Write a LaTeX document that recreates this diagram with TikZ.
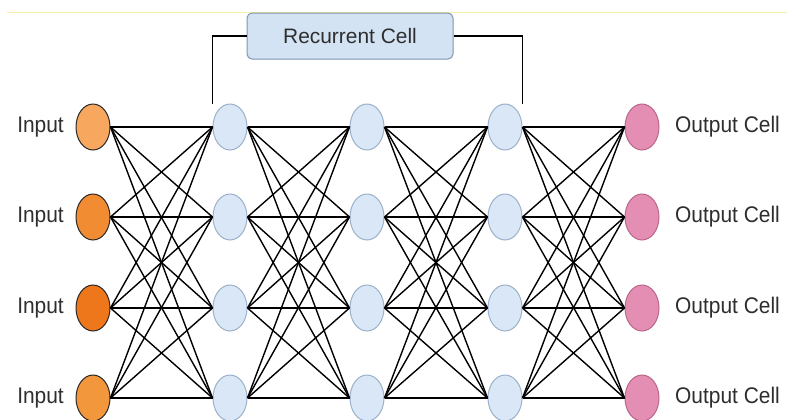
\documentclass[tikz,border=0pt]{standalone}
\usepackage{fontspec}
\setmainfont{Liberation Sans}
\usetikzlibrary{shapes.geometric}
\definecolor{inA}{HTML}{F8A75E}
\definecolor{inB}{HTML}{F28C33}
\definecolor{inC}{HTML}{EE771C}
\definecolor{inD}{HTML}{F3973C}
\definecolor{hidfill}{HTML}{DAE7F6}
\definecolor{hidline}{HTML}{9AB0CB}
\definecolor{outfill}{HTML}{E48EB4}
\definecolor{outline}{HTML}{B9668B}
\definecolor{recfill}{HTML}{D3E3F4}
\definecolor{recline}{HTML}{7E95AE}
\definecolor{ylw}{HTML}{F6EFA6}
\definecolor{txt}{HTML}{2E2E2E}
\newcommand{\tallfont}{\fontsize{21}{25}\selectfont}
\begin{document}
\begin{tikzpicture}[x=1bp,y=-1bp,
  neuron/.style={ellipse, minimum width=34bp, minimum height=46bp, inner sep=0pt, line width=1pt},
  innode/.style={neuron, draw=black!85},
  hidnode/.style={neuron, draw=hidline, fill=hidfill},
  outnode/.style={neuron, draw=outline, fill=outfill},
  link/.style={line width=1.4pt, black},
  lbl/.style={inner sep=0pt, font=\tallfont, text=txt, yscale=1.08},
  recbox/.style={rounded corners=5bp, draw=recline, fill=recfill, line width=1pt,
    minimum width=206bp, minimum height=46bp, inner sep=0pt, font=\tallfont, text=txt}]
\useasboundingbox (0,0) rectangle (787,419);
\coordinate (ya) at (7,12);
\coordinate (yb) at (787,12);
\draw[ylw, line width=0.8pt] (ya) -- (yb);
% nodes
\foreach \r/\y/\c in {1/127/inA,2/217/inB,3/308/inC,4/398/inD} {
  \node[innode, fill=\c] (n0-\r) at (93,\y) {};
  \node[hidnode] (n1-\r) at (230,\y) {};
  \node[hidnode] (n2-\r) at (367,\y) {};
  \node[hidnode] (n3-\r) at (505,\y) {};
  \node[outnode] (n4-\r) at (642,\y) {};
  \node[lbl, anchor=east] (li-\r) at (64,\y) {Input};
  \node[lbl, anchor=west] (lo-\r) at (675,\y) {Output Cell};
}
% connections
\foreach \c in {0,1,2,3} {
  \pgfmathtruncatemacro{\d}{\c+1}
  \foreach \r in {1,2,3,4} {
    \foreach \s in {1,2,3,4} {
      \draw[link] (n\c-\r.east) -- (n\d-\s.west);
    }
  }
}
% recurrent cell
\node[recbox] (rc) at (350,36) {Recurrent Cell};
\coordinate (rl) at (n1-1.west |- n1-1.north);
\coordinate (rr) at (n3-1.east |- n3-1.north);
\draw[link] (rc.west) -| (rl);
\draw[link] (rc.east) -| (rr);
\end{tikzpicture}
\end{document}
